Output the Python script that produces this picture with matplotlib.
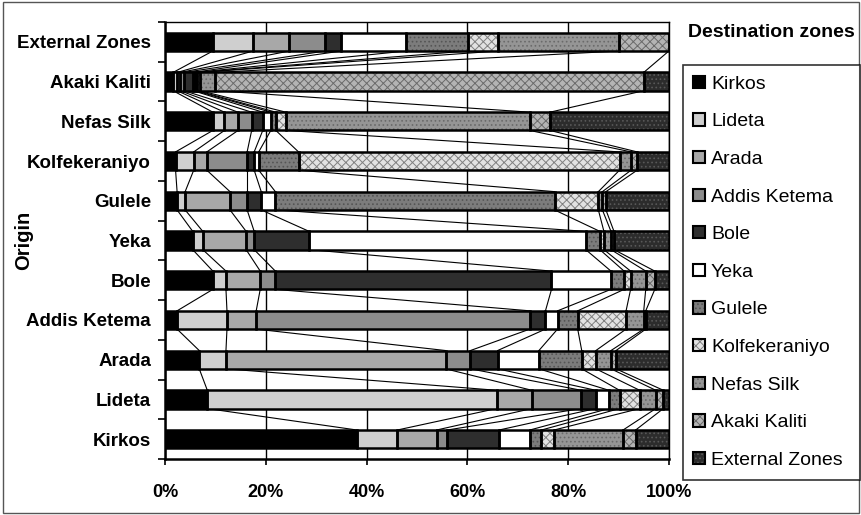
import matplotlib
matplotlib.use("Agg")
import matplotlib.pyplot as plt
from matplotlib.patches import Patch, Rectangle
import numpy as np

plt.rcParams['font.family'] = ['Liberation Sans', 'DejaVu Sans']
plt.rcParams['hatch.linewidth'] = 0.7

# origins bottom -> top, destinations in stacking order
origins = ['Kirkos', 'Lideta', 'Arada', 'Addis Ketema', 'Bole', 'Yeka', 'Gulele',
           'Kolfekeraniyo', 'Nefas Silk', 'Akaki Kaliti', 'External Zones']
zones = origins

# share of trips (%) per destination zone, one list per origin
kirkos = [38.1, 8.0, 7.8, 2.1, 10.3, 6.1, 2.3, 2.5, 13.7, 2.5, 6.6]
lideta = [8.4, 57.4, 7.0, 9.8, 2.9, 2.6, 2.1, 4.0, 3.2, 1.5, 1.1]
arada = [6.8, 5.3, 43.6, 4.9, 5.4, 8.2, 8.5, 2.8, 3.0, 1.0, 10.5]
addis = [2.4, 9.9, 5.8, 54.3, 3.1, 2.4, 4.0, 9.6, 3.5, 0.4, 4.6]
bole = [9.5, 2.6, 6.8, 3.0, 54.8, 11.8, 2.6, 1.3, 3.0, 1.8, 2.8]
yeka = [5.5, 2.0, 8.6, 1.6, 10.9, 54.9, 2.8, 0.8, 1.4, 0.6, 10.9]
gulele = [2.4, 1.6, 8.9, 3.4, 2.8, 2.8, 55.4, 8.7, 0.8, 0.7, 12.5]
kolfe = [2.1, 3.6, 2.6, 8.0, 1.4, 0.9, 7.9, 63.7, 2.3, 1.2, 6.3]
nefas = [9.5, 2.3, 2.7, 2.7, 2.2, 1.6, 1.0, 2.0, 48.4, 4.0, 23.6]
akaki = [1.6, 0.8, 0.6, 0.8, 1.8, 0.4, 0.4, 0.6, 3.0, 85.0, 5.0]
external = [9.5, 8.0, 7.2, 7.1, 3.2, 12.9, 12.3, 5.9, 24.0, 9.9, 0.0]

shares = np.array([kirkos, lideta, arada, addis, bole, yeka, gulele,
                   kolfe, nefas, akaki, external])
cum = np.cumsum(shares, axis=1)
left = cum - shares

fills = ['#000000', '#cfcfcf', '#a8a8a8', '#8c8c8c', '#2e2e2e', '#ffffff',
         '#7c7c7c', '#e2e2e2', '#959595', '#b4b4b4', '#2c2c2c']
hatches = [None, None, None, None, None, None, '....', 'xxxx', '....', 'xxxx', '....']
hatch_cols = ['none', 'none', 'none', 'none', 'none', 'none',
              '#555555', '#808080', '#6a6a6a', '#6a6a6a', '#585858']

fig = plt.figure(figsize=(8.62, 5.15), dpi=100)
ax = fig.add_axes([0.1914, 0.1087, 0.5846, 0.8486])

y = np.arange(len(origins))
h = 0.46
for k in range(len(zones)):
    ax.barh(y, shares[:, k], left=left[:, k], height=h, color=fills[k],
            hatch=hatches[k], edgecolor=hatch_cols[k], linewidth=0, zorder=3)
    ax.barh(y, shares[:, k], left=left[:, k], height=h, fill=False,
            edgecolor='black', linewidth=1.8, zorder=4)

# series lines between neighbouring bars
for i in range(len(origins) - 1):
    for k in range(len(zones)):
        ax.plot([cum[i, k], cum[i + 1, k]], [y[i] + h / 2, y[i + 1] - h / 2],
                color='black', lw=0.8, zorder=2)

ax.set_xlim(0, 100)
ax.set_ylim(-0.5, len(origins) - 0.5)
ax.set_xticks(np.arange(0, 101, 20))
ax.set_xticklabels(['%d%%' % v for v in range(0, 101, 20)], fontsize=13, fontweight='bold')
ax.set_yticks(y)
ax.set_yticklabels(origins, fontsize=13.5, fontweight='bold')
ax.set_yticks(np.arange(-0.5, len(origins), 1), minor=True)
ax.tick_params(axis='y', which='major', length=0, pad=10)
ax.tick_params(axis='y', which='minor', length=5, width=1.2, direction='out')
ax.tick_params(axis='x', length=4, width=1.2, direction='out', pad=14)
ax.xaxis.grid(True, color='black', lw=1)
ax.set_axisbelow(True)
for side in ['left', 'bottom']:
    ax.spines[side].set_linewidth(1.8)
for side in ['top', 'right']:
    ax.spines[side].set_linewidth(1.0)

fig.text(0.027, 0.534, 'Origin', rotation=90, fontsize=14.5, fontweight='bold',
         ha='center', va='center')
fig.text(0.798, 0.936, 'Destination zones', fontsize=14, fontweight='bold',
         ha='left', va='center')

handles = [(Patch(facecolor=fills[k], hatch=hatches[k], edgecolor=hatch_cols[k], linewidth=0),
            Patch(fill=False, edgecolor='black', linewidth=1.5)) for k in range(len(zones))]
leg = fig.legend(handles, zones, loc='upper left',
                 bbox_to_anchor=(0.792, 0.0, 0.206, 0.874), mode='expand',
                 fontsize=14, frameon=True, fancybox=False, edgecolor='black',
                 labelspacing=1.06, handlelength=0.6, handleheight=0.6,
                 handletextpad=0.3, borderpad=0.55, borderaxespad=0)
leg.get_frame().set_linewidth(1.2)

fig.add_artist(Rectangle((0.003, 0.003), 0.994, 0.994, transform=fig.transFigure,
                         fill=False, edgecolor='#555555', lw=1))

fig.savefig('out.png', dpi=100)
